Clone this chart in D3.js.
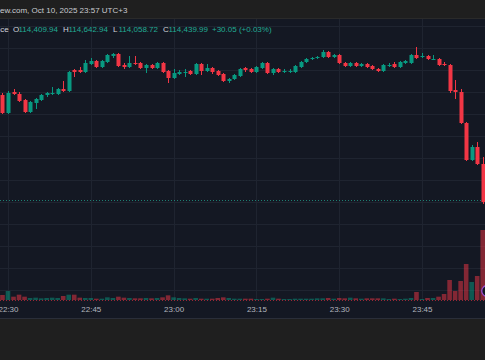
<!DOCTYPE html>
<html><head><meta charset="utf-8">
<script src="https://cdn.jsdelivr.net/npm/d3@7"></script>
<style>html,body{margin:0;padding:0;background:#1f1f1f;overflow:hidden}svg{display:block}</style>
</head><body>
<svg id="chart" width="485" height="360"></svg>
<script>
// ---- data (1-minute candles, 22:29 -> 23:56, Oct 10 2025, UTC+3) ----
const firstCandle = "22:29";
const tickLabels = ["22:30","22:45","23:00","23:15","23:30","23:45"];
const open = [
 114190,114010,114220,114200,114140,114020,114110,114140,114190,114200,
 114200,114250,114230,114440,114440,114420,114500,114530,114470,114520,
 114580,114600,114490,114470,114510,114510,114460,114490,114460,114510,
 114430,114360,114400,114410,114430,114400,114500,114430,114460,114430,
 114400,114330,114350,114380,114460,114450,114420,114460,114510,114410,
 114450,114425,114425,114420,114470,114520,114550,114560,114570,114620,
 114570,114590,114510,114480,114510,114480,114500,114480,114450,114430,
 114485,114500,114470,114510,114510,114590,114570,114580,114545,114550,
 114500,114490,114240,114220,113910,113540,113670,113500];
const high = [
 114210,114230,114250,114220,114150,114130,114160,114200,114220,114270,
 114260,114330,114430,114450,114470,114540,114560,114540,114540,114600,
 114610,114610,114510,114580,114580,114520,114500,114500,114520,114520,
 114440,114450,114440,114450,114440,114510,114510,114500,114470,114440,
 114410,114360,114400,114460,114470,114460,114480,114520,114520,114460,
 114460,114450,114450,114490,114530,114560,114570,114580,114640,114630,
 114600,114600,114520,114520,114520,114510,114510,114490,114460,114500,
 114510,114520,114530,114540,114600,114670,114610,114590,114590,114560,
 114520,114500,114340,114250,113920,113690,113720,113570];
const low = [
 114000,114000,114190,114120,114010,114010,114050,114130,114170,114190,
 114190,114220,114220,114370,114410,114410,114490,114460,114460,114510,
 114560,114470,114450,114460,114490,114450,114410,114450,114450,114410,
 114310,114350,114390,114370,114390,114390,114390,114420,114400,114380,
 114320,114310,114340,114370,114420,114410,114410,114450,114400,114390,
 114410,114410,114410,114410,114460,114510,114540,114550,114560,114560,
 114560,114500,114470,114470,114470,114470,114460,114440,114420,114420,
 114470,114460,114460,114500,114500,114550,114560,114540,114540,114480,
 114480,114210,114150,113900,113530,113530,113490,113100];
const close = [
 114010,114210,114200,114130,114020,114120,114150,114190,114210,114210,
 114250,114230,114420,114420,114420,114510,114530,114470,114530,114590,
 114600,114480,114470,114510,114500,114460,114490,114460,114510,114420,
 114360,114410,114420,114420,114400,114500,114430,114460,114420,114390,
 114330,114350,114390,114450,114440,114420,114470,114510,114410,114450,
 114420,114430,114430,114480,114520,114550,114560,114570,114620,114570,
 114590,114510,114480,114510,114480,114500,114470,114450,114430,114490,
 114490,114470,114520,114530,114590,114560,114580,114550,114550,114490,
 114495,114230,114220,113910,113540,113670,113500,113120];
const volume = [
 75,135,50,80,50,30,35,25,30,35,
 30,60,80,80,35,30,30,20,20,40,
 30,50,35,30,25,25,30,25,30,40,
 70,40,30,25,20,30,20,20,20,30,
 40,30,20,20,20,20,15,15,20,35,
 20,15,15,20,20,20,20,25,25,30,
 20,30,25,35,25,20,25,25,25,25,
 15,20,15,20,30,120,15,30,30,50,
 90,300,135,285,540,270,360,1050];
const refLinePrice = 113140;   // teal dotted line
const lastPriceLine = 112140;  // red dotted last-price line
const legendValues = {O:"114,409.94", H:"114,642.94", L:"114,058.72", C:"114,439.99"};
const legendChange = "+30.05 (+0.03%)";
const headerText = "TradingView.com, Oct 10, 2025 23:57 UTC+3";
const symbolText = "Bitcoin / TetherUS · 1 · Binance";

// ---- setup ----
const W = 485, H = 360;
const UP = "#089981", DOWN = "#f23645", BG = "#141823", GRID = "#1f2430";
const parseT = d3.timeParse("%Y-%m-%d %H:%M");
const day = "2025-10-10 ";
const t0 = parseT(day + firstCandle);
const times = open.map((_, i) => d3.timeMinute.offset(t0, i));
const ticks = tickLabels.map(s => parseT(day + s));

const x = d3.scaleTime().domain([ticks[0], ticks[ticks.length-1]]).range([8, 422]);
const y = d3.scaleLinear().domain([114000, 112000]).range([114, 314]);
const vy = d3.scaleLinear().domain([0, 1500]).range([300, 200]);
const gridPrices = d3.range(112240, 114900, 220);

const svg = d3.select("#chart");
svg.append("rect").attr("width", W).attr("height", H).attr("fill", "#1f1f1f");
svg.append("rect").attr("x", 0).attr("y", 18).attr("width", W).attr("height", 300).attr("fill", BG);
svg.append("line").attr("x1",0).attr("x2",W).attr("y1",18.5).attr("y2",18.5).attr("stroke","#2a2a2a");
svg.append("line").attr("x1",0).attr("x2",W).attr("y1",318.5).attr("y2",318.5).attr("stroke","#2a2e39");

// grid
const grid = svg.append("g");
grid.selectAll("line.h").data(gridPrices).join("line")
  .attr("x1", 0).attr("x2", W)
  .attr("y1", d => Math.round(y(d)) + 0.5).attr("y2", d => Math.round(y(d)) + 0.5)
  .attr("stroke", GRID);
grid.selectAll("line.v").data(ticks).join("line")
  .attr("x1", d => Math.round(x(d)) + 0.5).attr("x2", d => Math.round(x(d)) + 0.5)
  .attr("y1", 19).attr("y2", 300)
  .attr("stroke", GRID);

// volume
const bw = 4.6;
svg.append("g").selectAll("rect").data(volume).join("rect")
  .attr("x", (d, i) => x(times[i]) - bw / 2)
  .attr("width", bw)
  .attr("y", d => vy(d))
  .attr("height", d => vy(0) - vy(d))
  .attr("fill", (d, i) => close[i] >= open[i] ? UP : DOWN)
  .attr("fill-opacity", 0.5);

// reference lines
svg.append("line").attr("x1",0).attr("x2",W)
  .attr("y1", Math.round(y(refLinePrice)) + 0.5).attr("y2", Math.round(y(refLinePrice)) + 0.5)
  .attr("stroke", "#22ab94").attr("stroke-opacity", 0.7).attr("stroke-dasharray", "1,2");
svg.append("line").attr("x1",0).attr("x2",W)
  .attr("y1", Math.round(y(lastPriceLine)) + 0.5).attr("y2", Math.round(y(lastPriceLine)) + 0.5)
  .attr("stroke", DOWN).attr("stroke-opacity", 0.6).attr("stroke-dasharray", "1,2");

// candles
const cg = svg.append("g");
const idx = d3.range(open.length);
cg.selectAll("line").data(idx).join("line")
  .attr("x1", i => Math.round(x(times[i])) + 0.5).attr("x2", i => Math.round(x(times[i])) + 0.5)
  .attr("y1", i => y(high[i])).attr("y2", i => y(low[i]))
  .attr("stroke", i => close[i] >= open[i] ? UP : DOWN).attr("stroke-width", 1);
const cw = 4;
cg.selectAll("rect").data(idx).join("rect")
  .attr("x", i => Math.round(x(times[i])) + 0.5 - cw / 2)
  .attr("width", cw)
  .attr("y", i => Math.min(y(open[i]), y(close[i])))
  .attr("height", i => Math.max(1, Math.abs(y(open[i]) - y(close[i]))))
  .attr("fill", i => close[i] >= open[i] ? UP : DOWN);

// event marker near last candle
const lastI = open.length - 1;
svg.append("circle").attr("cx", x(times[lastI]) + 4.5).attr("cy", vy(135))
  .attr("r", 5.5).attr("fill", BG).attr("stroke", "#9b4fd6").attr("stroke-width", 1.3);

// time axis
const FONT = "'Liberation Sans', Arial, sans-serif";
const axis = d3.axisBottom(x).tickValues(ticks).tickFormat(d3.timeFormat("%H:%M")).tickSize(0).tickPadding(0);
const ag = svg.append("g").attr("transform", "translate(0,306)").call(axis);
ag.select(".domain").remove();
ag.selectAll("text").attr("fill", "#b2b5be").attr("font-family", FONT)
  .attr("font-size", "8px").attr("dy", "0.71em");

// header
const ht = svg.append("text").attr("x", 0).attr("y", 12.5).attr("fill", "#c9cbd0")
  .attr("font-family", FONT).attr("font-size", "8px").text(headerText);
const cut = ht.node().getSubStringLength(0, headerText.indexOf("ew.com"));
ht.attr("x", -cut);

// legend
svg.append("text").attr("x", 8.6).attr("y", 31.5).attr("text-anchor", "end")
  .attr("fill", "#d1d4dc").attr("font-family", FONT).attr("font-size", "8px").text(symbolText);
const lg = svg.append("text").attr("y", 31.5).attr("font-family", FONT).attr("font-size", "8px");
const keyX = {O: 13, H: 63, L: 113, C: 163};
Object.keys(legendValues).forEach(k => {
  lg.append("tspan").attr("x", keyX[k]).attr("fill", "#d1d4dc").text(k);
  lg.append("tspan").attr("x", keyX[k] + 5.5).attr("fill", "#22ab94").text(legendValues[k]);
});
lg.append("tspan").attr("x", 212).attr("fill", "#22ab94").text(legendChange);
</script>
</body></html>
